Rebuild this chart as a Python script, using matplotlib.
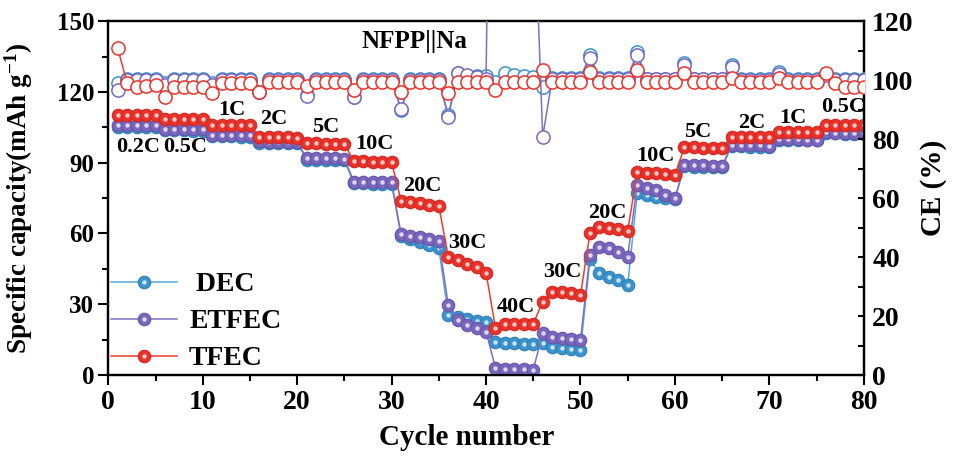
import numpy as np
import matplotlib
matplotlib.use("Agg")
import matplotlib.pyplot as plt
from matplotlib.legend_handler import HandlerTuple
from matplotlib.ticker import MultipleLocator

plt.rcParams["font.family"] = ["Liberation Serif", "DejaVu Serif"]
plt.rcParams["font.weight"] = "bold"
plt.rcParams["mathtext.fontset"] = "custom"
plt.rcParams["mathtext.rm"] = "Liberation Serif:bold"
plt.rcParams["mathtext.default"] = "rm"

# ---------------- data ----------------
cycles = np.arange(1, 81)

cap_dec = [105.3, 105.2, 105.2, 105.1, 105.1,
           103.8, 103.7, 103.7, 103.6, 103.6,
           101.2, 101.1, 101.1, 101.0, 101.0,
           98.5, 98.4, 98.4, 98.3, 98.3,
           91.3, 91.2, 91.2, 91.1, 91.0,
           81.3, 81.2, 81.1, 81.0, 80.9,
           59.0, 57.8, 56.5, 55.2, 53.8,
           25.4, 24.6, 23.8, 23.0, 22.4,
           14.2, 13.6, 13.4, 13.2, 13.1,
           13.4, 12.0, 11.3, 10.9, 10.6,
           49.0, 43.1, 41.7, 40.3, 38.1,
           77.0, 76.3, 75.6, 74.9, 74.5,
           88.5, 88.3, 88.2, 88.1, 88.0,
           97.0, 96.9, 96.8, 96.8, 96.7,
           99.6, 99.6, 99.5, 99.5, 99.4,
           102.4, 102.4, 102.3, 102.3, 102.2]

cap_etfec = [106.0, 105.9, 105.9, 105.8, 105.8,
             104.3, 104.2, 104.2, 104.1, 104.1,
             101.8, 101.7, 101.7, 101.6, 101.6,
             99.0, 98.9, 98.9, 98.8, 98.8,
             92.0, 91.9, 91.8, 91.8, 91.7,
             82.0, 81.9, 81.8, 81.7, 81.6,
             59.8, 59.0, 58.3, 57.6, 56.9,
             29.6, 23.3, 21.2, 19.8, 18.4,
             3.0, 2.6, 2.5, 2.4, 2.3,
             17.7, 16.2, 15.5, 15.1, 14.8,
             50.8, 54.4, 53.7, 52.3, 50.2,
             80.5, 79.1, 78.4, 76.3, 74.9,
             89.2, 89.0, 88.9, 88.8, 88.7,
             97.5, 97.4, 97.3, 97.3, 97.2,
             100.0, 99.9, 99.9, 99.8, 99.8,
             102.8, 102.7, 102.7, 102.6, 102.6]

cap_tfec = [110.2, 110.2, 110.3, 110.3, 110.4,
            108.6, 108.6, 108.5, 108.5, 108.5,
            106.0, 106.0, 105.9, 105.9, 105.8,
            100.8, 100.8, 100.7, 100.7, 100.6,
            98.2, 98.2, 98.1, 98.1, 98.0,
            90.6, 90.5, 90.4, 90.4, 90.3,
            73.9, 73.3, 72.7, 72.2, 71.6,
            50.1, 48.6, 47.1, 45.6, 43.4,
            19.9, 21.5, 21.6, 21.6, 21.7,
            31.1, 35.3, 35.0, 34.6, 33.9,
            60.0, 62.8, 62.3, 61.9, 60.9,
            86.2, 85.8, 85.5, 85.2, 84.8,
            96.5, 96.5, 96.4, 96.4, 96.4,
            100.9, 100.9, 100.8, 100.8, 100.8,
            103.1, 103.1, 103.0, 103.0, 103.0,
            105.9, 105.9, 105.8, 105.8, 105.8]

ce_dec = [99.0, 100.5, 100.5, 100.5, 100.5,
          99.0, 100.5, 100.5, 100.5, 100.5,
          99.0, 100.5, 100.5, 100.5, 100.5,
          96.0, 100.3, 100.3, 100.3, 100.3,
          94.8, 100.3, 100.3, 100.3, 100.3,
          94.3, 100.3, 100.3, 100.3, 100.3,
          89.8, 100.3, 100.3, 100.3, 100.3,
          88.1, 102.3, 101.5, 101.5, 101.5,
          99.5, 102.3, 101.8, 101.5, 101.2,
          97.7, 100.8, 100.8, 100.8, 100.8,
          108.5, 100.8, 100.8, 100.8, 100.8,
          109.6, 100.5, 100.5, 100.5, 100.5,
          105.7, 100.5, 100.5, 100.5, 100.5,
          105.1, 100.3, 100.3, 100.3, 100.3,
          102.8, 100.3, 100.3, 100.3, 100.3,
          102.2, 100.5, 100.5, 100.5, 100.5]

ce_etfec = [96.6, 100.2, 100.2, 100.2, 100.2,
            98.5, 100.2, 100.2, 100.2, 100.2,
            98.5, 100.0, 100.0, 100.0, 100.0,
            96.0, 100.0, 100.0, 100.0, 100.0,
            94.6, 100.0, 100.0, 100.0, 100.0,
            94.3, 100.0, 100.0, 100.0, 100.0,
            90.2, 100.0, 100.0, 100.0, 100.0,
            87.5, 102.3, 101.8, 101.0, 100.5,
            335.0, 260.0, 220.0, 190.0, 168.0,
            80.7, 100.5, 100.5, 100.5, 100.5,
            107.5, 100.5, 100.5, 100.5, 100.5,
            108.5, 100.3, 100.3, 100.3, 100.3,
            105.0, 100.3, 100.3, 100.3, 100.3,
            104.5, 100.2, 100.2, 100.2, 100.2,
            102.0, 100.2, 100.2, 100.2, 100.2,
            101.8, 100.2, 100.2, 100.2, 100.2]

ce_tfec = [110.8, 98.9, 97.8, 98.0, 98.2,
           94.3, 97.7, 97.7, 97.8, 97.8,
           95.5, 98.9, 98.9, 98.9, 98.9,
           96.0, 99.3, 99.3, 99.3, 99.3,
           98.0, 99.2, 99.2, 99.2, 99.2,
           96.8, 99.2, 99.2, 99.2, 99.2,
           96.0, 99.2, 99.2, 99.2, 99.2,
           95.5, 99.3, 99.3, 99.3, 99.3,
           96.6, 99.4, 99.4, 99.4, 99.4,
           103.4, 99.4, 99.4, 99.4, 99.4,
           102.7, 99.3, 99.3, 99.3, 99.3,
           103.4, 99.3, 99.3, 99.3, 99.3,
           102.4, 99.3, 99.3, 99.3, 99.3,
           100.7, 99.3, 99.3, 99.3, 99.3,
           100.7, 99.2, 99.2, 99.2, 99.2,
           102.4, 99.0, 97.8, 97.6, 97.6]

series_names = [" DEC", "ETFEC", "TFEC"]
line_colors = ["#5aa6da", "#7f6fc4", "#ea3b2f"]
ball_colors = ["#3b93cc", "#7a67bd", "#e8322a"]
edge_colors = ["#2f80b8", "#6655a8", "#d4261f"]

rate_labels = ["0.2C", "0.5C", "1C", "2C", "5C", "10C", "20C", "30C",
               "40C", "30C", "20C", "10C", "5C", "2C", "1C", "0.5C"]
rate_label_x = [3.2, 8.1, 13.1, 17.5, 23.0, 28.2, 33.2, 38.0,
                43.2, 48.1, 52.8, 57.9, 62.4, 68.1, 72.5, 77.8]
rate_label_y = [96.5, 96.5, 112.3, 108.5, 105.0, 98.0, 80.0, 56.0,
                28.8, 43.6, 68.6, 93.0, 103.0, 107.0, 109.0, 113.5]

# ---------------- figure ----------------
fig = plt.figure(figsize=(9.6, 4.59), dpi=100)
ax = fig.add_axes([0.1128, 0.183, 0.787, 0.771])
ax2 = ax.twinx()

caps = [cap_dec, cap_etfec, cap_tfec]
ces = [ce_dec, ce_etfec, ce_tfec]

handles = []
for i in range(3):
    base, = ax.plot(cycles, caps[i], "-", color=line_colors[i], lw=1.1,
                    marker="o", ms=9, mfc=ball_colors[i], mec=edge_colors[i],
                    mew=0.8, zorder=3 + i)
    shine, = ax.plot(cycles, caps[i], ls="none", marker="o", ms=3.2,
                     mfc="white", mec="none", alpha=0.75, zorder=3 + i)
    handles.append((base, shine))

for i in range(3):
    ax2.plot(cycles, ces[i], "-", color=line_colors[i], lw=1.1,
             marker="o", ms=9.5, mfc="white", mec=ball_colors[i], mew=1.1,
             zorder=3 + i)

for txt, x, y in zip(rate_labels, rate_label_x, rate_label_y):
    ax.text(x, y, txt, ha="center", va="center", fontsize=16,
            fontweight="bold", zorder=10, clip_on=False)

ax.text(32.4, 141.5, "NFPP||Na", ha="center", va="center", fontsize=18,
        fontweight="bold", zorder=10)

# axes ranges and ticks
ax.set_xlim(0, 80)
ax.set_ylim(0, 150)
ax2.set_ylim(0, 120)

ax.xaxis.set_major_locator(MultipleLocator(10))
ax.xaxis.set_minor_locator(MultipleLocator(5))
ax.yaxis.set_major_locator(MultipleLocator(30))
ax.yaxis.set_minor_locator(MultipleLocator(15))
ax2.yaxis.set_major_locator(MultipleLocator(20))
ax2.yaxis.set_minor_locator(MultipleLocator(10))

ax.tick_params(axis="x", which="major", direction="out", length=7,
               width=1.5, labelsize=20, pad=4)
ax.tick_params(axis="x", which="minor", direction="out", length=4,
               width=1.5)
ax.tick_params(axis="y", which="major", direction="out", length=7,
               width=1.5, labelsize=18, pad=3)
ax.tick_params(axis="y", which="minor", direction="out", length=4,
               width=1.5)
ax2.tick_params(axis="y", which="major", direction="in", length=4,
                width=1.5, labelsize=20, pad=6)
ax2.tick_params(axis="y", which="minor", direction="in", length=4,
                width=1.5)

for a in (ax, ax2):
    for s in a.spines.values():
        s.set_linewidth(1.6)

ax.set_xlabel("Cycle number", fontsize=21, fontweight="bold")
ax.xaxis.set_label_coords(0.474, -0.138)
ax.set_ylabel("Specific capacity(mAh g$^{-1}$)", fontsize=19.5,
              fontweight="bold")
ax.yaxis.set_label_coords(-0.097, 0.5)
ax2.set_ylabel("CE (%)", fontsize=21, fontweight="bold")
ax2.yaxis.set_label_coords(1.074, 0.53)

leg = ax.legend(handles, series_names, loc="lower left",
                bbox_to_anchor=(0.004, 0.01), frameon=False,
                fontsize=20, handlelength=2.35, handletextpad=0.45,
                labelspacing=0.42, borderpad=0, borderaxespad=0,
                handler_map={tuple: HandlerTuple(ndivide=1)})
for t in leg.get_texts():
    t.set_fontweight("bold")

fig.savefig("out.png", dpi=100)
